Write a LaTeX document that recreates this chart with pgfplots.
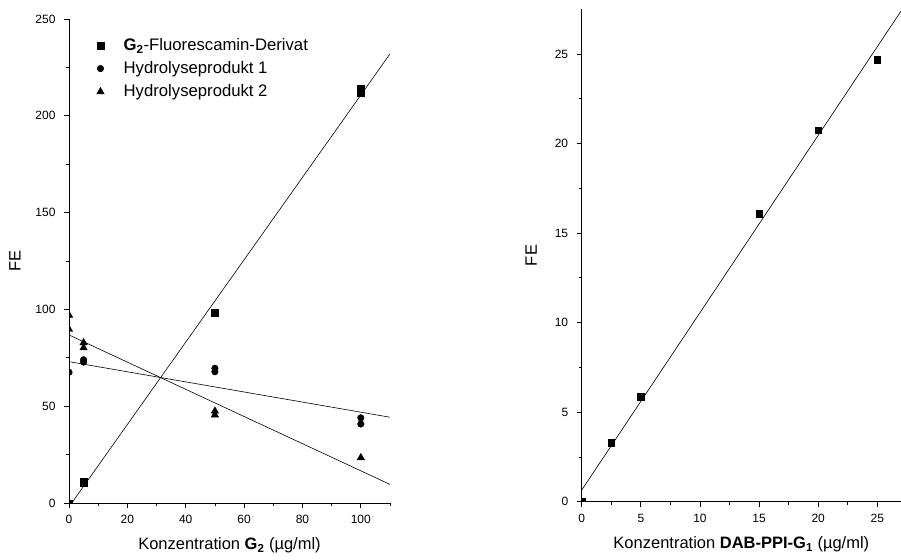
\documentclass[border=0pt]{standalone}
\usepackage{fontspec}
\setmainfont{Liberation Sans}
\usepackage{pgfplots}
\pgfplotsset{compat=1.18}
\begin{document}
\begin{tikzpicture}
\pgfplotsset{
  myax/.style={
    scale only axis,
    axis x line*=bottom, axis y line*=left,
    axis line style={-, line width=0.8pt},
    tick align=outside,
    major tick length=5pt, minor tick length=3pt,
    tick style={black, line width=0.8pt},
    every tick label/.append style={font=\fontsize{12}{14}\selectfont},
    xticklabel style={yshift=-4pt},
    yticklabel style={xshift=-5pt},
    /pgf/number format/assume math mode=true,
    label style={font=\fontsize{16.5}{19}\selectfont},
    xlabel style={yshift=-7pt},
    ylabel style={yshift=8pt},
    clip=true,
  },
  lgimg/.style={legend image code/.code={\path (-4pt,0pt) (20pt,0pt); \draw[##1] plot coordinates {(0pt,0pt)};}},
}
\begin{axis}[myax,
  at={(69pt,56pt)}, anchor=south west,
  width=321pt, height=484pt,
  xmin=0, xmax=110, ymin=0, ymax=250,
  xtick={0,20,40,60,80,100}, minor xtick={10,30,50,70,90,110},
  ytick={0,50,100,150,200,250}, minor ytick={25,75,125,175,225},
  xlabel={Konzentration \textbf{G}\textsubscript{\textbf{2}} (µg/ml)},
  ylabel={FE},
  legend style={at={(0.075,0.968)}, anchor=north west, draw=none, fill=none,
    font=\fontsize{16.7}{19}\selectfont, row sep=5.5pt,
    nodes={inner xsep=3pt, inner ysep=2pt}},
  legend cell align=left,
]
\addplot[only marks, lgimg, mark=square*, mark size=3.3pt, black, clip mode=individual] coordinates {
  (0,0) (5,10.5) (5,11.2) (50,98.3) (100,212) (100,214.2)
};
\addlegendentry{\textbf{G}\textsubscript{\textbf{2}}-Fluorescamin-Derivat}
\addplot[only marks, lgimg, mark=*, mark size=3.3pt, black, clip mode=individual] coordinates {
  (0,67.5) (5,72.8) (5,74.0) (50,67.8) (50,69.6) (100,40.8) (100,44.0)
};
\addlegendentry{Hydrolyseprodukt 1}
\addplot[only marks, lgimg, mark=triangle*, mark size=4.3pt, black, clip mode=individual] coordinates {
  (0,97) (0,89.7) (5,82.8) (5,80.2) (50,47.5) (50,45.5) (100,23.4)
};
\addlegendentry{Hydrolyseprodukt 2}
\addplot[black, line width=0.6pt, forget plot] coordinates {(0.94,0) (110,232)};
\addplot[black, line width=0.6pt, forget plot] coordinates {(0,73) (110,44.3)};
\addplot[black, line width=0.6pt, forget plot] coordinates {(0,86.8) (110,9.6)};
\end{axis}

\begin{axis}[myax,
  at={(581.7pt,57.3pt)}, anchor=south west,
  width=319.3pt, height=492.4pt,
  xmin=0, xmax=27, ymin=0, ymax=27.5,
  xtick={0,5,10,15,20,25}, minor xtick={2.5,7.5,12.5,17.5,22.5},
  ytick={0,5,10,15,20,25}, minor ytick={2.5,7.5,12.5,17.5,22.5},
  xlabel={Konzentration \textbf{DAB-PPI-G}\textsubscript{\textbf{1}} (µg/ml)},
  ylabel={FE},
  ylabel style={yshift=3pt},
]
\addplot[only marks, mark=square*, mark size=3.3pt, black, clip mode=individual] coordinates {
  (0,0) (2.5,3.3) (5,5.85) (15,16.1) (20,20.75) (25,24.7)
};
\addplot[black, line width=0.6pt] coordinates {(0,0.65) (27,27.4)};
\end{axis}
\pgfresetboundingbox
\useasboundingbox (0pt,0pt) rectangle (901pt,559pt);
\end{tikzpicture}
\end{document}
